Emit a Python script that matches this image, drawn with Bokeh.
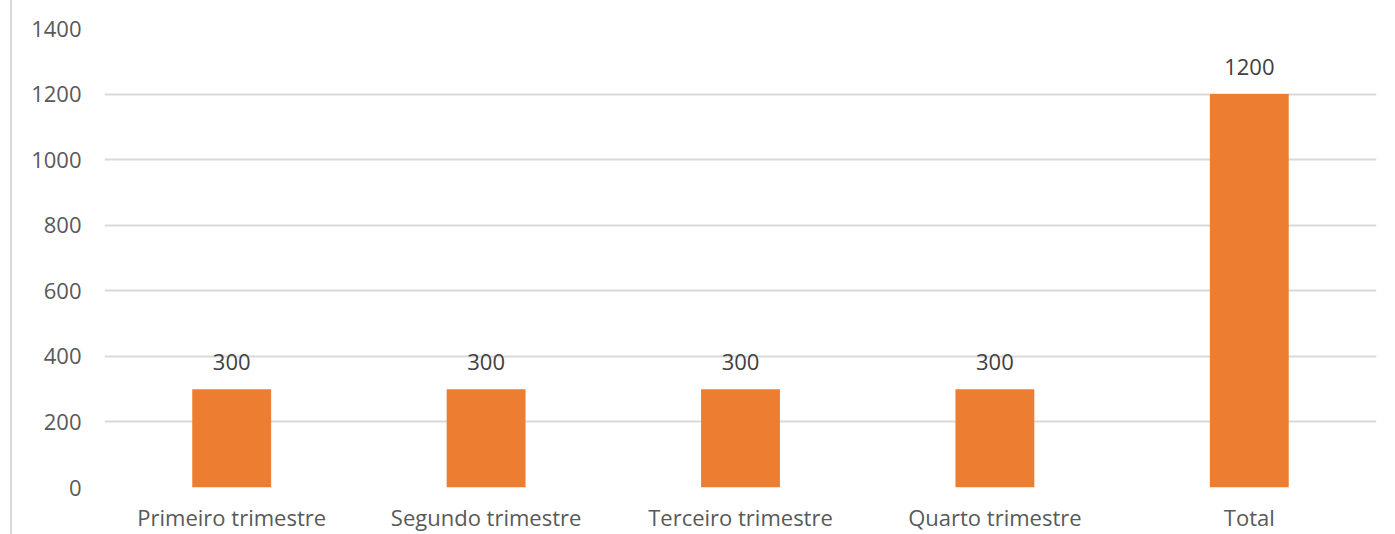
from bokeh.plotting import figure
from bokeh.models import ColumnDataSource, FixedTicker, Range1d
from bokeh.core.properties import value
from bokeh.embed import file_html
from bokeh.resources import INLINE

categories = ["Primeiro trimestre", "Segundo trimestre", "Terceiro trimestre", "Quarto trimestre", "Total"]
values = [300, 300, 300, 300, 1200]
labels = [str(v) for v in values]
y_ticks = [0, 200, 400, 600, 800, 1000, 1200, 1400]

FONT = "Open Sans"
source = ColumnDataSource(data=dict(cat=categories, val=values, lab=labels))

p = figure(x_range=categories, y_range=Range1d(0, 1400), width=1383, height=534,
           output_backend="svg", toolbar_location=None,
           min_border_left=92, min_border_right=19, min_border_top=28, min_border_bottom=47)
p.styles = {"border-left": "2px solid #d9d9d9", "margin-left": "10px"}

p.vbar(x="cat", top="val", width=0.31, source=source, color="#ED7D31", line_color=None)
p.text(x="cat", y="val", text="lab", source=source, text_align="center", text_baseline="bottom",
       y_offset=-19, text_font=value(FONT), text_font_size="22px", text_color="#404040")

p.outline_line_color = None
p.xgrid.grid_line_color = None
p.ygrid.grid_line_color = "#d9d9d9"
p.ygrid.grid_line_width = 2
p.yaxis.ticker = FixedTicker(ticks=y_ticks)

for ax in (p.xaxis, p.yaxis):
    ax.axis_line_color = None
    ax.major_tick_line_color = None
    ax.minor_tick_line_color = None
    ax.major_tick_out = 0
    ax.major_tick_in = 0
    ax.major_label_text_font = FONT
    ax.major_label_text_font_size = "22px"
    ax.major_label_text_color = "#595959"

p.yaxis.major_label_standoff = 23
p.xaxis.major_label_standoff = 14
p.x_range.range_padding = 0

open("out.html", "w").write(file_html(p, INLINE))
